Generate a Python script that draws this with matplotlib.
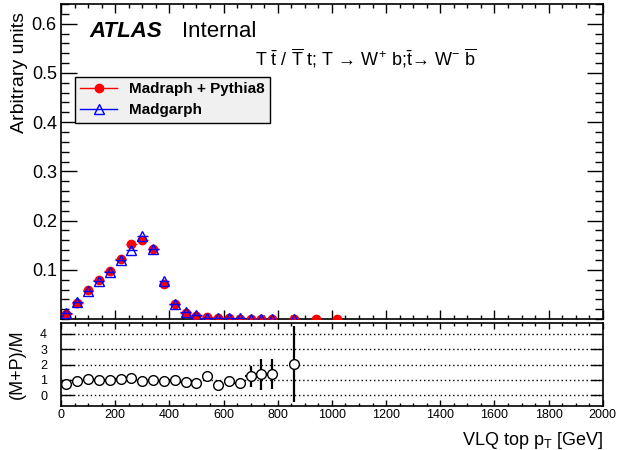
import numpy as np
import matplotlib
matplotlib.use("Agg")
import matplotlib.pyplot as plt
from matplotlib.lines import Line2D
from matplotlib.ticker import MultipleLocator

plt.rcParams['font.family'] = ['Liberation Sans', 'DejaVu Sans']
plt.rcParams['mathtext.fontset'] = 'custom'
plt.rcParams['mathtext.rm'] = 'Liberation Sans'
plt.rcParams['mathtext.it'] = 'Liberation Sans:italic'
plt.rcParams['mathtext.bf'] = 'Liberation Sans:bold'

# VLQ top pT bins (40 GeV wide)
pt_mp = [20, 60, 100, 140, 180, 220, 260, 300, 340, 380, 420, 460, 500, 540,
         580, 620, 660, 700, 740, 780, 860, 940, 1020]
mp_vals = [0.010, 0.032, 0.059, 0.080, 0.098, 0.123, 0.153, 0.161, 0.142, 0.072,
           0.030, 0.012, 0.007, 0.004, 0.002, 0.0015, 0.001, 0.0008, 0.0006,
           0.0005, 0.0003, 0.0002, 0.0001]

pt_mg = [20, 60, 100, 140, 180, 220, 260, 300, 340, 380, 420, 460, 500, 540,
         580, 620, 660, 700, 740, 780, 860]
mg_vals = [0.013, 0.034, 0.057, 0.078, 0.096, 0.119, 0.140, 0.169, 0.142, 0.077,
           0.030, 0.014, 0.009, 0.003, 0.003, 0.0016, 0.0013, 0.0007, 0.0004,
           0.0004, 0.00015]

ratio = [0.76, 0.95, 1.04, 1.02, 1.02, 1.04, 1.09, 0.95, 1.00, 0.93, 1.00, 0.85,
         0.78, 1.26, 0.67, 0.91, 0.78, 1.22, 1.35, 1.37, 2.03]
ratio_err = [0.03, 0.03, 0.02, 0.02, 0.02, 0.02, 0.02, 0.02, 0.02, 0.03, 0.05,
             0.08, 0.10, 0.15, 0.15, 0.30, 0.35, 0.70, 1.00, 1.00, 2.45]
half_bin = 20

fig = plt.figure(figsize=(6.3, 4.5), dpi=100)
ax = fig.add_axes([0.0968, 0.291, 0.860, 0.700])
rax = fig.add_axes([0.0968, 0.098, 0.860, 0.184])

# main panel
ax.errorbar(pt_mp, mp_vals, xerr=half_bin, fmt='o', color='red', ms=6,
            elinewidth=1, capsize=0, zorder=3)
ax.errorbar(pt_mg, mg_vals, xerr=half_bin, fmt='^', color='blue', mfc='none',
            mec='blue', ms=7, mew=1, elinewidth=1, capsize=0, zorder=4)

ax.set_xlim(0, 2000)
ax.set_ylim(0, 0.64)
ax.xaxis.set_major_locator(MultipleLocator(200))
ax.xaxis.set_minor_locator(MultipleLocator(50))
ax.yaxis.set_minor_locator(MultipleLocator(0.02))
ax.set_yticks([0.1, 0.2, 0.3, 0.4, 0.5, 0.6])
ax.set_yticklabels(['0.1', '0.2', '0.3', '0.4', '0.5', '0.6'])
ax.tick_params(axis='both', which='both', direction='in', top=True, right=True,
               width=1)
ax.tick_params(axis='x', which='major', length=6.5, labelbottom=False)
ax.tick_params(axis='x', which='minor', length=3.2)
ax.tick_params(axis='y', which='major', length=11.5, labelsize=13, pad=3)
ax.tick_params(axis='y', which='minor', length=5.8)
for s in ax.spines.values():
    s.set_linewidth(1.2)
ax.set_ylabel('Arbitrary units', fontsize=14, loc='top', labelpad=4)
ax.yaxis.set_label_coords(-0.06, 0.975)

ax.text(0.053, 0.895, 'ATLAS', transform=ax.transAxes, fontsize=16,
        fontweight='bold', fontstyle='italic')
ax.text(0.223, 0.895, 'Internal', transform=ax.transAxes, fontsize=16)
ax.text(0.358, 0.805,
        r'T $\bar{\mathrm{t}}$ / $\overline{\mathrm{T}}$ t; T → W$^{+}$ b;'
        r'$\bar{\mathrm{t}}$→ W$^{-}$ $\overline{\mathrm{b}}$',
        transform=ax.transAxes, fontsize=13)

handles = [
    Line2D([], [], color='red', marker='o', ms=6, lw=1),
    Line2D([], [], color='blue', marker='^', mfc='none', ms=7, lw=1),
]
leg = ax.legend(handles, ['Madraph + Pythia8', 'Madgarph'], loc='upper left',
                bbox_to_anchor=(0.026, 0.768), borderaxespad=0, fancybox=False,
                framealpha=1, facecolor='#f0f0f0', edgecolor='black',
                prop={'weight': 'bold', 'size': 11}, handlelength=2.4,
                borderpad=0.35, labelspacing=0.45)
leg.get_frame().set_linewidth(1)

# ratio panel
rax.errorbar(pt_mg, ratio, xerr=half_bin, yerr=ratio_err, fmt='o', color='black',
             mfc='white', mec='black', ms=7, mew=1, elinewidth=1.6, capsize=0,
             zorder=3)
rax.set_xlim(0, 2000)
rax.set_ylim(-0.7, 4.7)
for yv in [0, 1, 2, 3, 4]:
    rax.axhline(yv, color='black', lw=1, ls=(0, (1, 2)), zorder=1)
rax.set_yticks([0, 1, 2, 3, 4])
rax.xaxis.set_major_locator(MultipleLocator(200))
rax.xaxis.set_minor_locator(MultipleLocator(50))
rax.tick_params(axis='both', which='both', direction='in', top=True, right=True,
                width=1, labelsize=9)
rax.tick_params(axis='y', which='major', length=9, pad=10)
rax.tick_params(axis='x', which='major', length=4, pad=2)
rax.tick_params(axis='x', which='minor', length=2)
for s in rax.spines.values():
    s.set_linewidth(1.2)
rax.set_ylabel('(M+P)/M', fontsize=13, labelpad=8)
rax.yaxis.set_label_coords(-0.065, 0.5)
rax.set_xlabel(r'VLQ top p$_{\mathrm{T}}$ [GeV]', fontsize=13, loc='right',
               labelpad=7)

fig.savefig('out.png', dpi=100)
